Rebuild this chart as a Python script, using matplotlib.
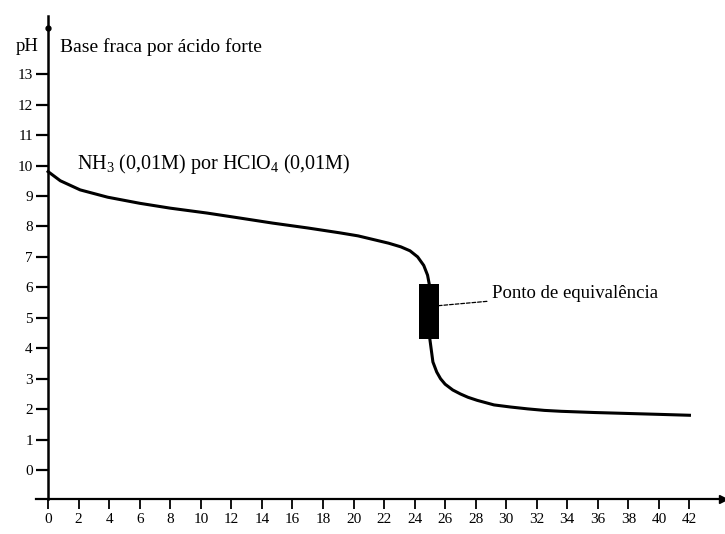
import matplotlib.pyplot as plt

plt.rcParams['font.family'] = ['Liberation Serif', 'DejaVu Serif']
plt.rcParams['mathtext.fontset'] = 'custom'
plt.rcParams['mathtext.rm'] = 'Liberation Serif'
plt.rcParams['mathtext.it'] = 'Liberation Serif:italic'

# Volume de HClO4 (mL) e pH
volume = [0, 0.8, 2.1, 3.9, 6, 8, 10.4, 12.5, 14.7, 17, 19.1, 20.3, 21.3, 22.3,
          23.1, 23.7, 24.2, 24.6, 24.85, 25.0, 25.0, 25.2, 25.45, 25.7, 26.0,
          26.5, 27.0, 27.5, 28.1, 29.2, 30.3, 31.4, 32.5, 33.6, 35.8, 37.9,
          40, 42]
ph = [9.8, 9.5, 9.2, 8.96, 8.76, 8.6, 8.44, 8.28, 8.11, 7.95, 7.79, 7.69, 7.57,
      7.45, 7.33, 7.2, 7.0, 6.72, 6.4, 6.0, 4.3, 3.55, 3.22, 3.0, 2.82, 2.63,
      2.5, 2.39, 2.29, 2.14, 2.07, 2.01, 1.96, 1.93, 1.89, 1.86, 1.83, 1.80]

# zona do ponto de equivalência
eq_vol = [24.3, 25.6]
eq_ph = [4.3, 6.1]

x_ticks = list(range(0, 43, 2))
y_ticks = list(range(0, 14))

fig = plt.figure(figsize=(7.25, 5.34), dpi=100)
ax = fig.add_axes([0.0497, 0.0655, 0.9476, 0.904])
ax.set_xlim(-0.79, 44.2)
ax.set_ylim(-0.95, 14.9)

ax.plot(volume, ph, color='black', lw=2.2, solid_joinstyle='round')
ax.bar((eq_vol[0] + eq_vol[1]) / 2, eq_ph[1] - eq_ph[0], bottom=eq_ph[0],
       width=eq_vol[1] - eq_vol[0], color='black', zorder=3)

ax.annotate('Ponto de equivalência', xy=(eq_vol[1], 5.4), xytext=(29.1, 5.8),
            fontsize=13.5, va='center', ha='left',
            arrowprops=dict(arrowstyle='-', color='black', lw=0.9,
                            linestyle=(0, (3, 1.5)), shrinkA=2, shrinkB=0))

ax.text(-1.4, 13.9, 'pH', fontsize=13.5, ha='center', va='center', clip_on=False)
ax.text(0.8, 13.9, 'Base fraca por ácido forte', fontsize=14, ha='left', va='center')
ax.text(1.9, 10.05, r'NH$_3$ (0,01M) por HClO$_4$ (0,01M)', fontsize=14.5,
        ha='left', va='center')

for side in ['top', 'right']:
    ax.spines[side].set_visible(False)
ax.spines['left'].set_position(('data', 0))
ax.spines['left'].set_linewidth(1.8)
ax.spines['bottom'].set_linewidth(1.6)

ax.set_xticks(x_ticks)
ax.set_yticks(y_ticks)
ax.tick_params(axis='y', direction='out', length=9, width=1.6, pad=2, labelsize=11)
ax.tick_params(axis='x', direction='out', length=7, width=1.3, pad=3, labelsize=11)

# seta no fim do eixo x e ponto no topo do eixo y
ax.plot([1], [0], marker='>', color='black', markersize=6, transform=ax.transAxes,
        clip_on=False)
ax.plot([0], [14.5], marker='o', color='black', markersize=3.5, clip_on=False)

fig.savefig('out.png', dpi=100)
